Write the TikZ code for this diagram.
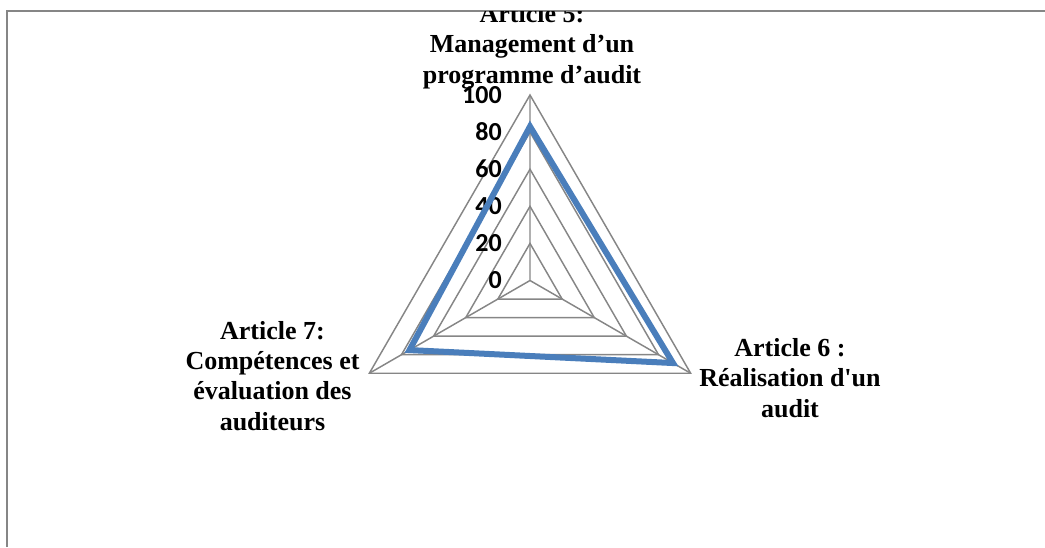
\documentclass[tikz,border=0pt]{standalone}
\usepackage{fontspec}
\setmainfont{Liberation Serif}[Ligatures=TeXOff]
\newfontfamily\calibfont{Carlito}
\usepackage{xcolor}
\definecolor{gridgray}{HTML}{868686}
\definecolor{serieblue}{HTML}{4A7EBB}
\newcommand{\artfont}{\fontsize{19.5}{22.75}\selectfont\bfseries}
\newcommand{\numfont}{\fontsize{19.5}{22}\selectfont\calibfont\bfseries}

\begin{document}
\begin{tikzpicture}[x=0.75pt,y=0.75pt,
  grid/.style={draw=gridgray,line width=1.1pt},
  serie/.style={draw=serieblue,line width=4.5pt},
  artlab/.style={font=\artfont,align=center,inner sep=0pt,anchor=base},
  numlab/.style={font=\numfont,anchor=east,inner sep=0pt}]
 \useasboundingbox (-530,-266.5) rectangle (515,280.5);
 \draw[grid] (-523,-266.5) -- (-523,269.5) -- (515,269.5);
 \begin{scope}
 \clip (-523,-266.5) rectangle (515,269.5);
 \coordinate (O) at (0,0);
 \foreach \v in {20,40,...,100}
   {\coordinate (T\v) at (90:1.855*\v);
    \coordinate (R\v) at (-30:1.855*\v);
    \coordinate (L\v) at (210:1.855*\v);
    \draw[grid] (T\v) -- (R\v) -- (L\v) -- cycle;}
 \draw[grid] (O) -- (T100) (O) -- (R100) (O) -- (L100);

 \foreach \v in {0,20,...,100}
   \draw (-28,1.855*\v) node[numlab] (n\v) {\v};

 \coordinate (D5) at (90:1.855*83);
 \coordinate (D6) at (-30:1.855*89);
 \coordinate (D7) at (210:1.855*75);
 \draw[serie] (D5) -- (D6) -- (D7) -- cycle;

 \draw (2,197.5) node[artlab] (art5)
       {Article 5:\\ Management d’un\\ programme d’audit};
 \draw (260,-136.5) node[artlab] (art6)
       {Article 6 :\\ Réalisation d'un\\ audit};
 \draw (-257.5,-149.5) node[artlab] (art7)
       {Article 7:\\ Compétences et\\ évaluation des\\ auditeurs};
 \end{scope}
\end{tikzpicture}
\end{document}
